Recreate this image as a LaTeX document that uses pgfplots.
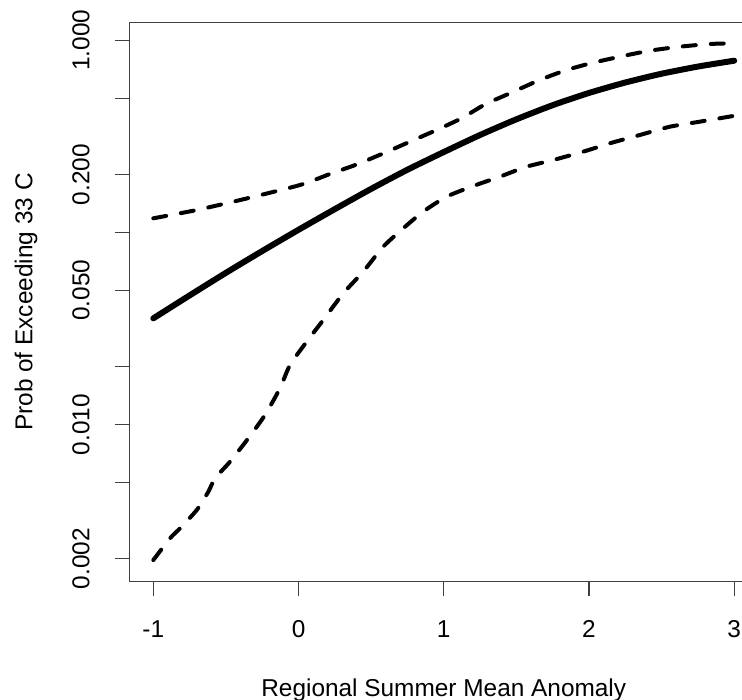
\documentclass[border=0pt]{standalone}
\usepackage{pgfplots}
\pgfplotsset{compat=1.18}
\usepackage{fontspec}
\setmainfont{Liberation Sans}
\begin{document}
\begin{tikzpicture}
\begin{axis}[
  name=ax,
  scale only axis,
  width=314.25pt, height=279.6pt,
  xmin=-1.164, xmax=3.164,
  ymin=0.00152, ymax=1.238,
  ymode=log,
  axis line style={black!75, line width=0.55pt},
  tick style={black!75, line width=0.55pt},
  tick align=outside,
  major tick length=7.15pt,
  xtick pos=bottom, ytick pos=left,
  xtick={-1,0,1,2,3},
  xticklabels={-1,0,1,2,3},
  ytick={0.002,0.005,0.01,0.02,0.05,0.1,0.2,0.5,1},
  yticklabels={0.002,,0.010,,0.050,,0.200,,1.000},
  minor ytick={},
  /pgf/number format/assume math mode=true,
  tick label style={font=\fontsize{12.2}{14}\selectfont, inner sep=0pt},
  xticklabel style={anchor=north},
  yticklabel style={rotate=90, anchor=south},
  xticklabel shift=12.3pt,
  yticklabel shift=12.6pt,
  label style={font=\fontsize{12.2}{14}\selectfont, inner sep=0pt},
  xlabel={Regional Summer Mean Anomaly},
  ylabel={Prob of Exceeding 33 C},
  xlabel style={at={(axis description cs:0.5,-0.20619)}, anchor=base},
  ylabel style={at={(axis description cs:-0.15434,0.5)}, anchor=base, rotate=0},
  clip=true,
]
% fitted probability
\addplot[black, line width=3pt, line cap=round, line join=round, smooth, tension=0.4] coordinates {
(-1,0.0357) (-0.75,0.0470) (-0.5,0.0616) (-0.25,0.0800) (0,0.1032)
(0.25,0.1322) (0.5,0.1685) (0.75,0.2120) (1,0.2620) (1.25,0.3215)
(1.5,0.3880) (1.75,0.4595) (2,0.5320) (2.25,0.6030) (2.5,0.6700)
(2.75,0.7300) (3,0.7832)
};
% upper bound
\addplot[black, line width=2pt, line cap=round, line join=round, dash pattern=on 6.5pt off 7.5pt, smooth, tension=0.4] coordinates {
(-1,0.1184) (-0.701,0.1308) (-0.381,0.1487) (0.010,0.1765) (0.216,0.2014)
(0.400,0.2257) (0.595,0.2601) (0.767,0.2967) (0.950,0.3412) (1.122,0.3927)
(1.283,0.4634) (1.455,0.5297) (1.661,0.6215) (1.845,0.7004) (2.028,0.7645)
(2.235,0.8287) (2.418,0.8828) (2.625,0.9262) (2.831,0.9566) (2.992,0.9647)
};
% lower bound
\addplot[black, line width=2pt, line cap=round, line join=round, dash pattern=on 6.5pt off 7.5pt, smooth, tension=0.4] coordinates {
(-1,0.00197) (-0.885,0.002556) (-0.816,0.002882) (-0.701,0.003588) (-0.621,0.004469)
(-0.575,0.005248) (-0.472,0.006401) (-0.346,0.008478) (-0.231,0.01121) (-0.128,0.01543)
(-0.059,0.02040) (0.056,0.02698) (0.170,0.03499) (0.308,0.04819) (0.445,0.06243)
(0.583,0.08424) (0.721,0.1050) (0.858,0.1282) (1.019,0.1534) (1.202,0.1743)
(1.386,0.1950) (1.570,0.2198) (1.753,0.2381) (1.959,0.2630) (2.143,0.2909)
(2.350,0.3214) (2.556,0.3549) (2.762,0.3770) (2.992,0.4036)
};
\end{axis}
\pgfresetboundingbox
\path[use as bounding box] ([xshift=-64.75pt,yshift=-59.15pt]ax.south west) rectangle ([xshift=306.25pt,yshift=11.25pt]ax.north west);
\end{tikzpicture}
\end{document}
